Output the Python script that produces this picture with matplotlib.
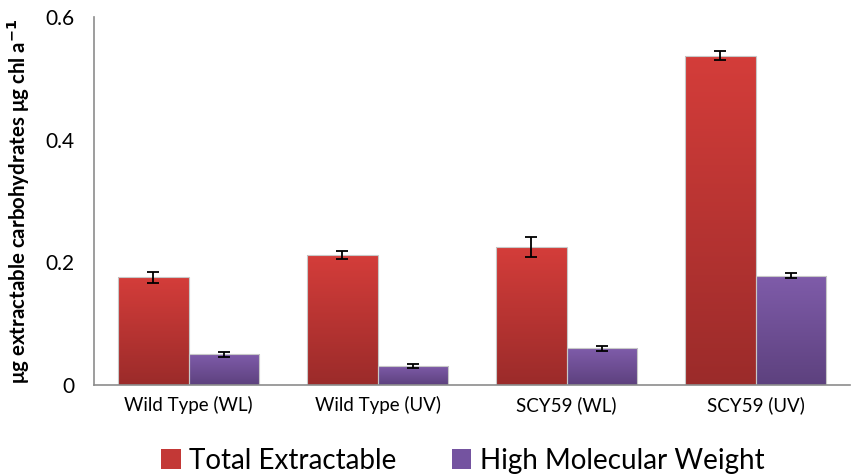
import matplotlib
matplotlib.use("Agg")
import matplotlib.pyplot as plt
import numpy as np
from matplotlib.colors import LinearSegmentedColormap
from matplotlib.patches import Patch

categories = ["Wild Type (WL)", "Wild Type (UV)", "SCY59 (WL)", "SCY59 (UV)"]
total_extractable = [0.176, 0.212, 0.225, 0.537]
total_err = [0.009, 0.006, 0.016, 0.007]
high_mw = [0.050, 0.031, 0.060, 0.178]
high_mw_err = [0.004, 0.004, 0.004, 0.004]
series_names = ["Total Extractable", "High Molecular Weight"]
yticks = [0, 0.2, 0.4, 0.6]
ytick_labels = ["0", "0.2", "0.4", "0.6"]

plt.rcParams['font.family'] = ['Lato', 'DejaVu Sans']

fig = plt.figure(figsize=(8.57, 4.75), dpi=100)
ax = fig.add_axes([0.1097, 0.1895, 0.8823, 0.7745])

x = np.arange(len(categories))
w = 0.373
red_grad = LinearSegmentedColormap.from_list("r", ["#9B2B2A", "#D43D3A"])
pur_grad = LinearSegmentedColormap.from_list("p", ["#5D417E", "#7F5CAA"])

def grad_bars(xpos, vals, errs, cmap):
    bars = ax.bar(xpos, vals, w, color="none", edgecolor="#c8c8c8", linewidth=0.8, zorder=2)
    for b in bars:
        x0, y0 = b.get_x(), b.get_y()
        bw, bh = b.get_width(), b.get_height()
        grad = np.linspace(0, 1, 256).reshape(-1, 1)
        im = ax.imshow(grad, cmap=cmap, origin="lower", aspect="auto",
                       extent=[x0, x0 + bw, y0, y0 + bh], zorder=1, vmin=0, vmax=1)
        im.set_clip_path(b)
    ax.errorbar(xpos, vals, yerr=errs, fmt="none", ecolor="black", elinewidth=1.3,
                capsize=4, capthick=1.3, zorder=3)
    return bars

grad_bars(x - w / 2, total_extractable, total_err, red_grad)
grad_bars(x + w / 2, high_mw, high_mw_err, pur_grad)

ax.set_xlim(-0.5, len(categories) - 0.5)
ax.set_ylim(0, 0.6)
ax.set_yticks(yticks)
ax.set_yticklabels(ytick_labels, fontsize=15)
ax.set_xticks(x)
ax.set_xticklabels(categories, fontsize=13.5)
ax.tick_params(axis="both", length=0, pad=8)
ax.tick_params(axis="y", pad=14)
for s in ["top", "right"]:
    ax.spines[s].set_visible(False)
for s in ["left", "bottom"]:
    ax.spines[s].set_color("#8c8c8c")
    ax.spines[s].set_linewidth(1.2)

ax.set_ylabel("μg extractable carbohydrates μg chl a$^{\\mathbf{-1}}$", fontsize=14.8,
              fontweight="bold")
ax.yaxis.set_label_coords(-0.082, 0.5)

handles = [Patch(facecolor="#C33836", edgecolor="none"),
           Patch(facecolor="#7453A0", edgecolor="none")]
fig.legend(handles, series_names, loc="center", bbox_to_anchor=(0.54, 0.03),
           ncol=2, frameon=False, fontsize=20, handlelength=0.7, handleheight=0.7,
           handletextpad=0.3, columnspacing=2.0)

fig.savefig("out.png", dpi=100)
